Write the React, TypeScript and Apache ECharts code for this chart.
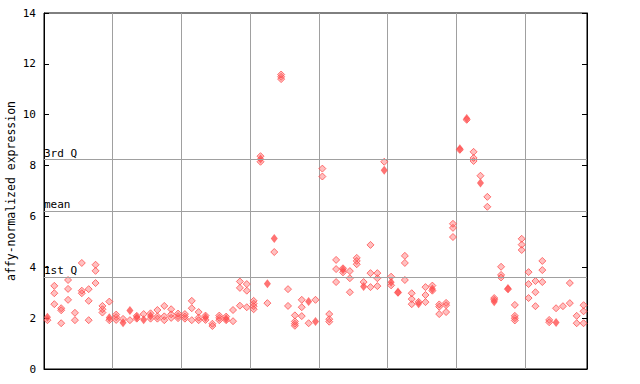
import React, { useEffect, useRef } from "react";
import * as echarts from "echarts";

// column index -> replicate values drawn as dithered (hollow) diamonds
const hollowValues: number[][] = [
  [1.92], [3.27, 2.98, 2.55], [2.39, 2.31, 1.8], [3.5, 3.15, 2.72], [2.21, 1.92],
  [4.17, 3.08, 2.98], [3.14, 2.68, 1.92], [4.1, 3.86, 3.38], [2.48, 2.35, 2.22], [2.65, 1.92],
  [2.14, 2.04, 1.93], [1.97], [1.92], [2.09, 1.98], [2.16],
  [2.19, 1.98], [2.32, 2.07, 1.98], [2.48, 2.07, 1.92], [2.35, 2.15, 2.01], [2.18, 2.08, 2.0],
  [2.16, 2.06, 1.98], [2.68, 2.39, 1.92], [2.24, 2.02, 1.92], [2.1, 1.93], [1.78, 1.69],
  [2.1, 2.01, 1.92], [2.06, 1.92], [2.32, 1.88], [3.44, 3.19, 2.49], [3.34, 3.08, 2.43],
  [2.68, 2.57, 2.47, 2.35], [8.37, 8.15], [2.59], [4.6], [11.58, 11.49, 11.4],
  [3.14, 2.48], [2.11, 1.87, 1.78, 1.7], [2.72, 2.43, 2.08], [1.8], [2.72],
  [7.88, 7.57], [2.16, 1.96, 1.86], [4.29, 3.93, 3.42], [3.96, 3.8], [3.85, 3.57, 3.02],
  [4.37, 4.25, 4.12], [3.42], [4.88, 3.77, 3.22], [3.77, 3.57, 3.26], [8.15],
  [3.63, 3.29], [3.0], [4.45, 4.17, 3.5], [2.98, 2.75, 2.55], [2.64],
  [3.22, 2.91, 2.63], [3.28, 3.08], [2.54, 2.45, 2.16], [2.6, 2.51, 2.24], [5.71, 5.55, 5.19],
  [8.62], [9.8], [8.54, 8.3, 8.18], [7.6], [6.77, 6.38],
  [2.79, 2.72], [4.02, 3.7, 3.6], [3.14], [2.52, 2.09, 2.0, 1.91], [5.12, 4.89, 4.68],
  [3.81, 3.34, 2.79], [3.46, 3.02, 2.47], [4.25, 3.89, 3.42], [1.93, 1.84], [2.39],
  [2.47], [3.38, 2.59], [2.09, 1.8], [2.51, 2.27, 1.8],
];

// columns that also have a solid diamond, and its value
const filledColumns: number[] = [0, 9, 11, 12, 13, 14, 15, 23, 26, 31, 32, 33, 38, 39, 43, 46, 49, 50, 51, 54, 56, 60, 61, 63, 65, 67, 74];
const filledValues: number[] = [2.04, 2.02, 1.82, 2.3, 2.04, 1.94, 2.08, 2.03, 1.98, 8.26, 3.35, 5.13, 2.65, 1.87, 3.9, 3.24, 7.82, 3.41, 3.03, 2.57, 3.15, 8.66, 9.85, 7.31, 2.64, 3.17, 1.83];

const quartileValues: number[] = [8.23, 6.22, 3.62];
const quartileLabels: string[] = ["3rd Q", "mean", "1st Q"];

const yTicks: number[] = [0, 2, 4, 6, 8, 10, 12, 14];
const groupSize = 10;
const columnCount = hollowValues.length;

const RED = "#ff5050";
const FONT = "DejaVu Sans Mono";

export default function App() {
  const ref = useRef<HTMLDivElement>(null);
  useEffect(() => {
    if (!ref.current) return;
    const chart = echarts.init(ref.current, null, { renderer: "svg" });
    const hollowData: number[][] = [];
    hollowValues.forEach((vals, i) => vals.forEach((v) => hollowData.push([i + 0.5, v])));
    const filledData = filledColumns.map((c, k) => [c + 0.5, filledValues[k]]);
    chart.setOption({
      animation: false,
      grid: {
        left: 44,
        top: 13,
        right: 53,
        bottom: 15,
        containLabel: false,
        outerBoundsMode: "none",
        show: true,
        borderColor: "#000",
        borderWidth: 1,
        backgroundColor: "transparent",
      },
      xAxis: {
        type: "value",
        min: 0,
        max: columnCount,
        interval: groupSize,
        axisLine: { show: true, lineStyle: { color: "#000" } },
        axisTick: { show: false },
        axisLabel: { show: false },
        splitLine: { show: true, lineStyle: { color: "#a0a0a0", width: 1 } },
      },
      yAxis: [
        {
          type: "value",
          min: yTicks[0],
          max: yTicks[yTicks.length - 1],
          interval: 2,
          name: "affy-normalized expression",
          nameLocation: "middle",
          nameGap: 27,
          nameMoveOverlap: false,
          nameTextStyle: { fontFamily: FONT, fontSize: 11.5, color: "#000" },
          axisLine: { show: true, lineStyle: { color: "#000" } },
          axisTick: { show: true, inside: true, length: 5, lineStyle: { color: "#000" } },
          axisLabel: { fontFamily: FONT, fontSize: 11, color: "#000", margin: 8 },
          splitLine: { show: false },
        },
        {
          type: "value",
          position: "right",
          min: yTicks[0],
          max: yTicks[yTicks.length - 1],
          interval: 2,
          axisLine: { show: true, lineStyle: { color: "#000" } },
          axisTick: { show: true, inside: true, length: 5, lineStyle: { color: "#000" } },
          axisLabel: { show: false },
          splitLine: { show: false },
        },
      ],
      series: [
        {
          type: "scatter",
          data: hollowData,
          symbol: "diamond",
          symbolSize: [7, 7],
          itemStyle: { color: "rgba(255,80,80,0.45)", borderColor: RED, borderWidth: 1 },
          markLine: {
            silent: true,
            symbol: ["none", "none"],
            lineStyle: { color: "#a0a0a0", type: "solid", width: 1 },
            label: {
              show: true,
              position: "insideStartTop",
              distance: [0, 1],
              fontFamily: FONT,
              fontSize: 11,
              color: "#000",
              formatter: (p: any) => quartileLabels[p.dataIndex],
            },
            data: quartileValues.map((v) => ({ yAxis: v })),
          },
        },
        {
          type: "scatter",
          data: filledData,
          symbol: "diamond",
          symbolSize: [7, 9],
          itemStyle: { color: RED },
        },
      ],
    });
    return () => chart.dispose();
  }, []);
  return (
    <div
      ref={ref}
      style={{ position: "fixed", left: 0, top: 0, width: 640, height: 384, background: "#fff" }}
    />
  );
}
